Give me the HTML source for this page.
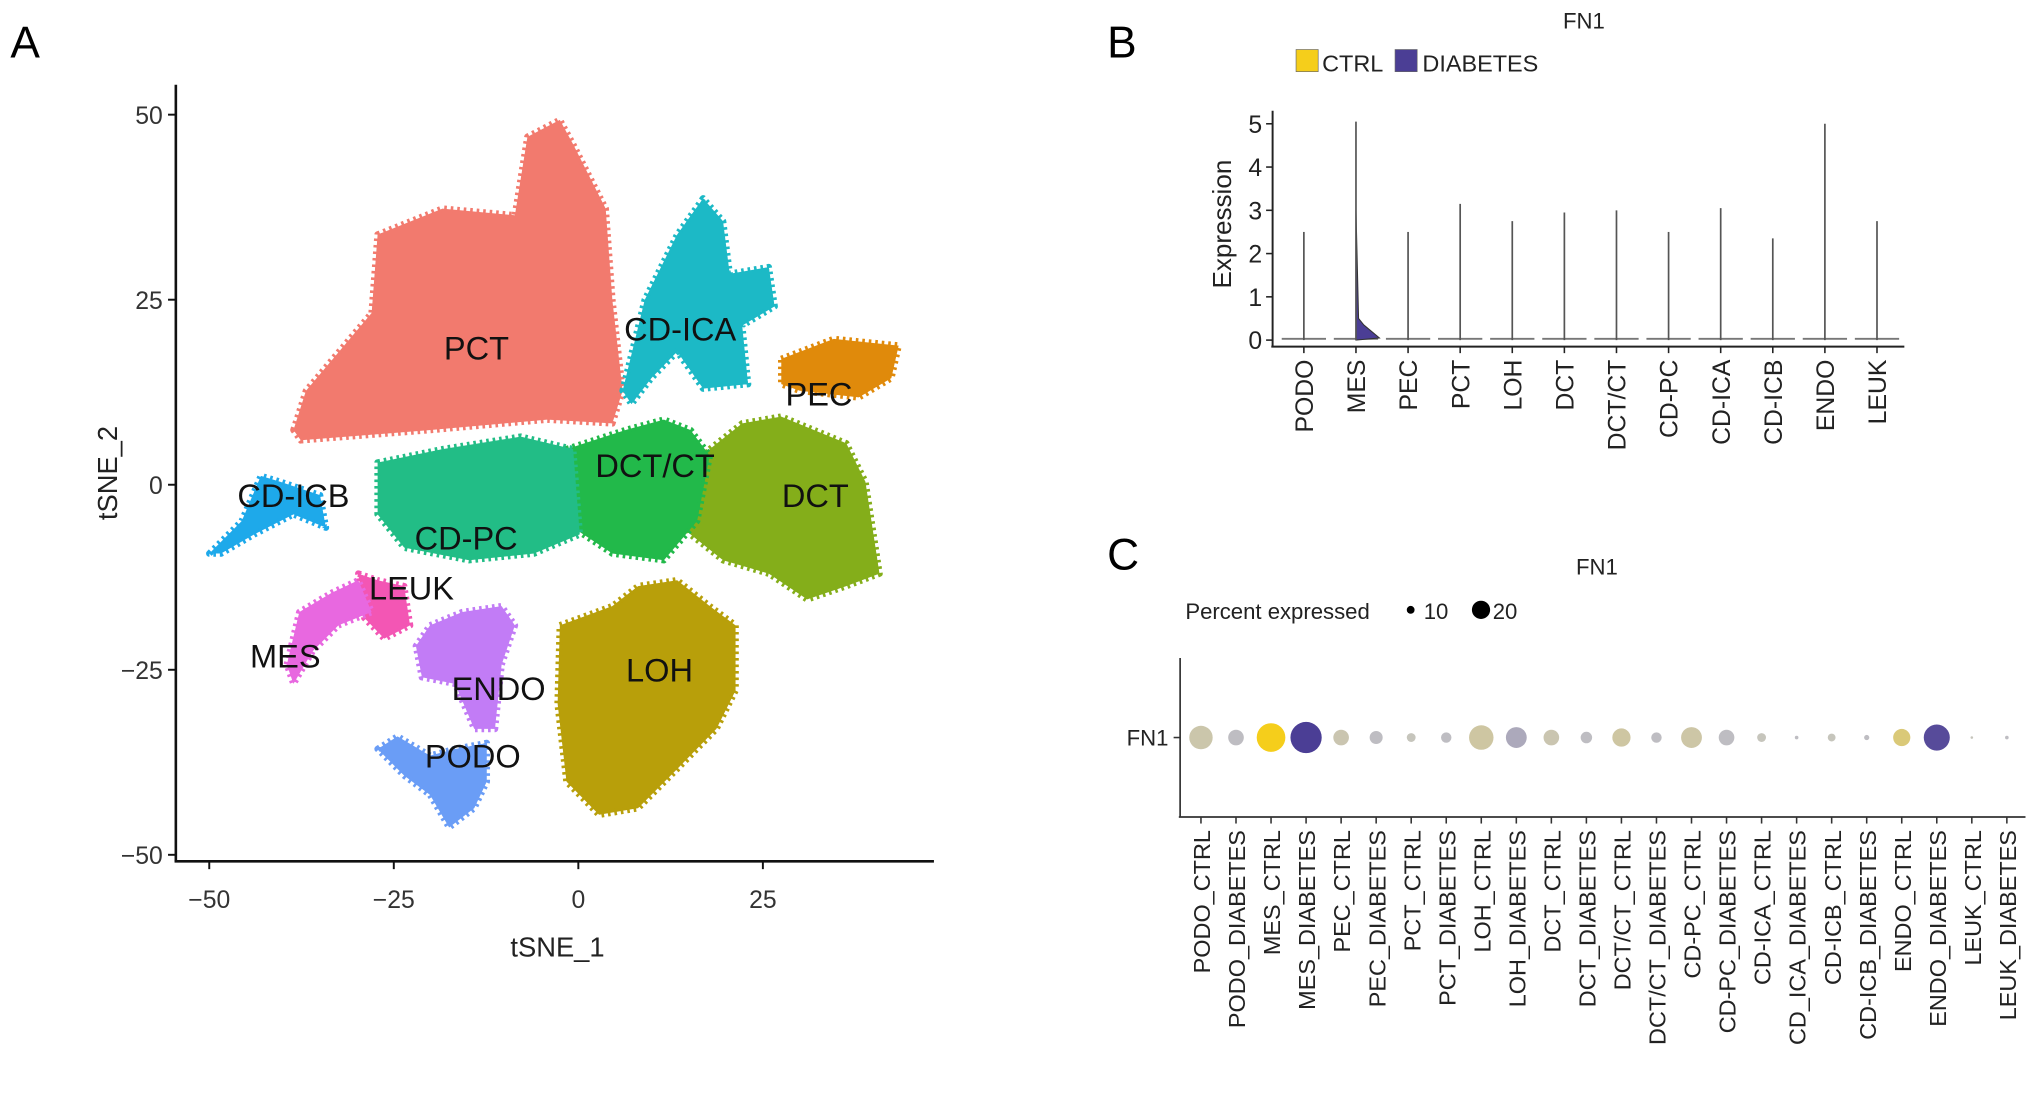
<!DOCTYPE html>
<html><head><meta charset="utf-8"><style>
html,body{margin:0;padding:0;background:#fff;}
svg{display:block;font-family:"Liberation Sans",Arial,sans-serif;}
</style></head><body>
<svg id="fig" width="2032" height="1105" viewBox="0 0 1560 848" preserveAspectRatio="none">
<rect width="1560" height="848" fill="#fff"/>
<g id="panelA"></g>
<g id="panelB"></g>
<g id="panelC"></g>
</svg>
<script>
// ---------- Panel A data ----------
const clusterNames = ["PCT","CD-ICA","PEC","DCT","DCT/CT","CD-PC","CD-ICB","LEUK","MES","ENDO","PODO","LOH"];
const clusterColors = ["#F27A6E","#1CB9C6","#E08A0B","#84AE1A","#22B94A","#22BD86","#1EA9EA","#F356B4","#E868E0","#C27CF6","#6A9DF6","#B89F0A"];
const clusterShapes = [
 [[-38.6,7.4],[-36.9,12.7],[-28,23.2],[-27.2,33.8],[-18.4,37.3],[-8.6,36.4],[-6.9,47],[-2.5,49.3],[-0.7,46],[3.7,37.3],[4.6,25],[6,12.7],[4.6,8.3],[-4.2,8.8],[-20,7.4],[-37.6,6]],
 [[6,12.7],[9,25],[13.4,33.8],[16.9,38.7],[19.6,35.6],[20.5,28.5],[25.8,29.4],[26.6,24.1],[22.2,21.5],[23,13.6],[16.9,13],[13.4,18],[9.9,14.4],[7.2,10.9]],
 [[27.5,17],[34.6,19.7],[43.4,18.8],[42.4,14.4],[38,11.8],[30,12.7],[27.5,13.6]],
 [[17.8,4.8],[22.2,8.3],[27.5,9.2],[36.3,5.6],[38.9,0.4],[40.8,-12],[36.3,-13.7],[31,-15.5],[25.8,-12],[19.6,-10.2],[15.2,-6.7],[13.4,-1.4]],
 [[-1.6,4.8],[6.4,7.4],[11.6,8.8],[15.2,7.4],[17.8,3.9],[16.1,-4.9],[11.6,-10.2],[4.6,-9.3],[-0.7,-5.8]],
 [[-27.2,3],[-18.4,4.8],[-7.8,6.5],[-0.7,4.8],[0.2,-6.7],[-6,-9.3],[-14.8,-10.2],[-23.6,-8.5],[-27.2,-4]],
 [[-50,-9.3],[-45.6,-4.9],[-43,1.2],[-40.4,0.4],[-35,-1.4],[-34.2,-5.8],[-38.6,-4],[-43.9,-6.7],[-48.4,-9.3]],
 [[-29.8,-12],[-27.2,-12.9],[-23.6,-13.7],[-22.8,-19],[-26.3,-20.8],[-29,-18]],
 [[-39.5,-24.3],[-37.8,-17.2],[-33.4,-14.6],[-29.8,-12.9],[-28,-17.2],[-32.5,-19],[-36,-22.5],[-38.6,-26.9]],
 [[-20.1,-19],[-15.7,-17.2],[-10.4,-16.4],[-8.6,-19],[-10.4,-24.3],[-11.3,-33],[-14.1,-33],[-16.7,-26.9],[-21.2,-26],[-22,-21.8]],
 [[-27.2,-35.7],[-24.5,-34],[-20.1,-36.6],[-16.7,-35.7],[-12.4,-34.9],[-12.4,-40.1],[-14.1,-43.7],[-17.5,-46.3],[-20.1,-41.9],[-23.6,-39.3]],
 [[-2.5,-19],[4.6,-16.4],[8.1,-13.7],[13.4,-12.9],[17.8,-16.4],[21.3,-19],[21.3,-27.8],[18.7,-33],[13.4,-38.4],[8.1,-43.7],[2.8,-44.6],[-1.6,-40.1],[-2.8,-29.6]]
];
const labelX = [-13.8,13.8,32.6,32.1,10.4,-15.2,-38.6,-22.6,-39.7,-10.8,-14.3,11]; 
const labelY = [18.5,21.1,12.3,-1.4,2.6,-7.2,-1.4,-13.9,-23.1,-27.5,-36.6,-25];
const aTicks = [-50,-25,0,25];
const aYTicks = [50,25,0,-25,-50];

// ---------- Panel B data ----------
const vioCats = ["PODO","MES","PEC","PCT","LOH","DCT","DCT/CT","CD-PC","CD-ICA","CD-ICB","ENDO","LEUK"];
const vioMax = [2.5,5.05,2.5,3.15,2.75,2.95,3.0,2.5,3.05,2.35,5.0,2.75];
const vioTicks = [0,1,2,3,4,5];

// ---------- Panel C data ----------
const dotCats = ["PODO_CTRL","PODO_DIABETES","MES_CTRL","MES_DIABETES","PEC_CTRL","PEC_DIABETES","PCT_CTRL","PCT_DIABETES","LOH_CTRL","LOH_DIABETES","DCT_CTRL","DCT_DIABETES","DCT/CT_CTRL","DCT/CT_DIABETES","CD-PC_CTRL","CD-PC_DIABETES","CD-ICA_CTRL","CD_ICA_DIABETES","CD-ICB_CTRL","CD-ICB_DIABETES","ENDO_CTRL","ENDO_DIABETES","LEUK_CTRL","LEUK_DIABETES"];
const dotPct = [25,17.5,30,32.5,17.5,15,11,12.5,26,22.5,17.5,13.5,20,12.5,22.5,17.5,11,6,10,7.5,19,27.5,5,6];
const dotExpr = [0.15,0.05,1,1,0.12,0.05,0.05,0.05,0.2,0.2,0.12,0.05,0.2,0.05,0.18,0.05,0.05,0.05,0.05,0.05,0.45,0.9,0.05,0.05];

const NS="http://www.w3.org/2000/svg";
function mk(parent,tag,attrs,text){const e=document.createElementNS(NS,tag);for(const k in attrs)e.setAttribute(k,attrs[k]);if(text!==undefined)e.textContent=text;parent.appendChild(e);return e;}

// ===== Panel A =====
const A=document.getElementById('panelA');
const ax=v=>444+v*5.667, ay=v=>372-v*5.68;
let t=mk(A,'text',{x:8,y:44,'font-size':34,fill:'#000'},'A');


clusterShapes.forEach((pts,i)=>{
  const d=pts.map(p=>ax(p[0]).toFixed(1)+','+ay(p[1]).toFixed(1)).join(' ');
  const p=mk(A,'polygon',{points:d,fill:clusterColors[i],stroke:clusterColors[i],'stroke-width':5,'stroke-dasharray':'2 3','stroke-linejoin':'round'});
  
  
});
clusterNames.forEach((n,i)=>{
  const l=mk(A,'text',{x:ax(labelX[i]),y:ay(labelY[i])+9,'font-size':25,'text-anchor':'middle',fill:'#111'},n);
  
  
});
mk(A,'line',{x1:135,y1:65,x2:135,y2:661,stroke:'#111','stroke-width':2});
mk(A,'line',{x1:134,y1:661,x2:717,y2:661,stroke:'#111','stroke-width':2});
aTicks.forEach(v=>{
  mk(A,'line',{x1:ax(v),y1:661,x2:ax(v),y2:667,stroke:'#111','stroke-width':1.5});
  const l=mk(A,'text',{x:ax(v),y:697,'font-size':19,'text-anchor':'middle',fill:'#333'},v<0?'\u2212'+(-v):String(v));
  
  
});
aYTicks.forEach(v=>{
  mk(A,'line',{x1:129,y1:ay(v),x2:135,y2:ay(v),stroke:'#111','stroke-width':1.5});
  const l=mk(A,'text',{x:125,y:ay(v)+7,'font-size':19,'text-anchor':'end',fill:'#333'},v<0?'\u2212'+(-v):String(v));
  
  
});
t=mk(A,'text',{x:428,y:734,'font-size':21,'text-anchor':'middle',fill:'#222'},'tSNE_1');


t=mk(A,'text',{x:0,y:0,'font-size':21,'text-anchor':'middle',fill:'#222',transform:'translate(90,363) rotate(-90)'},'tSNE_2');



// ===== Panel B =====
const B=document.getElementById('panelB');
const bx=i=>1001+i*40, by=v=>261-v*33.2;
t=mk(B,'text',{x:850,y:44,'font-size':34,fill:'#000'},'B');


t=mk(B,'text',{x:1216,y:22,'font-size':17,'text-anchor':'middle',fill:'#222'},'FN1');


let r=mk(B,'rect',{x:995,y:38,width:17,height:17,fill:'#F5CE1B',stroke:'#666','stroke-width':0.5});


t=mk(B,'text',{x:1015,y:55,'font-size':18,fill:'#222'},'CTRL');


r=mk(B,'rect',{x:1071,y:38,width:17,height:17,fill:'#4B3E95',stroke:'#666','stroke-width':0.5});


t=mk(B,'text',{x:1092,y:55,'font-size':18,fill:'#222'},'DIABETES');


mk(B,'line',{x1:977,y1:85,x2:977,y2:266,stroke:'#222','stroke-width':1.5});
mk(B,'line',{x1:976,y1:266,x2:1462,y2:266,stroke:'#222','stroke-width':1.5});
vioTicks.forEach(v=>{
  mk(B,'line',{x1:972,y1:by(v),x2:977,y2:by(v),stroke:'#222','stroke-width':1.2});
  const l=mk(B,'text',{x:969,y:by(v)+7,'font-size':19,'text-anchor':'end',fill:'#222'},String(v));
  
  
});
t=mk(B,'text',{x:0,y:0,'font-size':20,'text-anchor':'middle',fill:'#222',transform:'translate(945,172) rotate(-90)'},'Expression');


vioCats.forEach((c,i)=>{
  const x=bx(i);
  mk(B,'line',{x1:x-17,y1:by(0)-1,x2:x+17,y2:by(0)-1,stroke:'#777','stroke-width':1.5});
  if(c==='MES'){
    const v=mk(B,'path',{d:`M${x},${by(3)} L${x+2},${by(0.5)} L${x+6},${by(0.35)} L${x+18},${by(0.05)} L${x},${by(0)} Z`,fill:'#4B3E95',stroke:'#333','stroke-width':0.8});
    
    
  }
  const vl=mk(B,'line',{x1:x,y1:by(0),x2:x,y2:by(vioMax[i]),stroke:'#555','stroke-width':1.3});
  
  
  mk(B,'line',{x1:x,y1:266,x2:x,y2:271,stroke:'#222','stroke-width':1.2});
  const l=mk(B,'text',{x:0,y:0,'font-size':19,'text-anchor':'end',fill:'#222',transform:`translate(${x+7},276) rotate(-90)`},c);
  
  
});

// ===== Panel C =====
const C=document.getElementById('panelC');
const cx=i=>922+i*26.9, cy=566;
const rad=p=>Math.max(1,0.4*p-1);
function mix(a,b,f){const pa=[parseInt(a.slice(1,3),16),parseInt(a.slice(3,5),16),parseInt(a.slice(5,7),16)],pb=[parseInt(b.slice(1,3),16),parseInt(b.slice(3,5),16),parseInt(b.slice(5,7),16)];return 'rgb('+pa.map((v,k)=>Math.round(v+(pb[k]-v)*f)).join(',')+')';}
t=mk(C,'text',{x:850,y:437,'font-size':34,fill:'#000'},'C');


t=mk(C,'text',{x:1226,y:441,'font-size':17,'text-anchor':'middle',fill:'#222'},'FN1');


t=mk(C,'text',{x:910,y:475,'font-size':17,fill:'#222'},'Percent expressed');


mk(C,'circle',{cx:1083,cy:468,r:3,fill:'#000'});
t=mk(C,'text',{x:1093,y:475,'font-size':17,fill:'#222'},'10');


mk(C,'circle',{cx:1137,cy:468,r:7,fill:'#000'});
t=mk(C,'text',{x:1146,y:475,'font-size':17,fill:'#222'},'20');


mk(C,'line',{x1:906,y1:505,x2:906,y2:627,stroke:'#333','stroke-width':1.3});
mk(C,'line',{x1:905,y1:627,x2:1555,y2:627,stroke:'#333','stroke-width':1.3});
mk(C,'line',{x1:901,y1:cy,x2:906,y2:cy,stroke:'#333','stroke-width':1.2});
t=mk(C,'text',{x:897,y:cy+6,'font-size':17,'text-anchor':'end',fill:'#222'},'FN1');


dotCats.forEach((c,i)=>{
  const x=cx(i);
  const base=c.indexOf('DIABETES')>=0?'#4B3E95':'#F5CE1B';
  const d=mk(C,'circle',{cx:x,cy:cy,r:rad(dotPct[i]),fill:mix('#c4c4c4',base,dotExpr[i])});
  
  
  mk(C,'line',{x1:x,y1:627,x2:x,y2:632,stroke:'#333','stroke-width':1.2});
  const l=mk(C,'text',{x:0,y:0,'font-size':18,'text-anchor':'end',fill:'#222',transform:`translate(${x+7},637) rotate(-90)`},c);
  
  
});
</script>
</body></html>
